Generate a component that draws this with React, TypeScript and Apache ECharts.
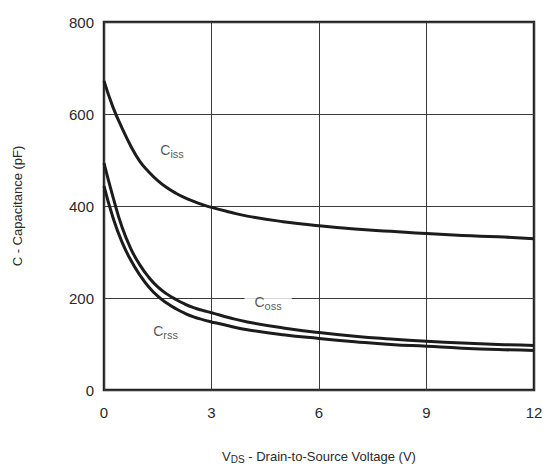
import React, { useEffect, useRef } from "react";
import * as echarts from "echarts";

const voltages = [0, 0.25, 0.5, 0.75, 1, 1.25, 1.5, 1.75, 2, 2.25, 2.5, 2.75, 3, 3.5, 4, 5, 6, 7, 8, 9, 10, 11, 12];
const ciss = [672, 615, 570, 530, 497, 474, 455, 440, 428, 418, 410, 403, 397, 387, 378, 366, 357, 350, 345, 340, 336, 333, 329];
const coss = [493, 420, 355, 307, 272, 245, 224, 209, 197, 187, 179, 173, 168, 157, 148, 135, 125, 117, 111, 106, 102, 99, 97];
const crss = [443, 375, 322, 282, 250, 224, 204, 189, 177, 167, 159, 153, 148, 139, 131, 120, 112, 105, 99, 95, 91, 88, 86];

const xTicks = [0, 3, 6, 9, 12];
const yTicks = [0, 200, 400, 600, 800];

const labels = [
  { name: "iss", x: 1.9, y: 522, bg: false },
  { name: "oss", x: 4.58, y: 191, bg: true },
  { name: "rss", x: 1.72, y: 128, bg: false },
];

const FONT = "'Liberation Sans', Arial, Helvetica, sans-serif";
const TXT = "#2a2a2a";

export default function App() {
  const ref = useRef<HTMLDivElement>(null);
  useEffect(() => {
    if (!ref.current) return;
    const chart = echarts.init(ref.current, undefined, { renderer: "svg" });
    const pair = (arr: number[]) => voltages.map((v, i) => [v, arr[i]]);
    const lineSeries = (name: string, arr: number[]) => ({
      name,
      type: "line",
      data: pair(arr),
      smooth: 0.5,
      showSymbol: false,
      symbol: "none",
      lineStyle: { color: "#1c1c1c", width: 3 },
      z: 3,
    });
    chart.setOption({
      animation: false,
      textStyle: { fontFamily: FONT },
      grid: {
        left: 104,
        right: 14,
        top: 22,
        bottom: 75,
        show: true,
        borderColor: "#222",
        borderWidth: 2.5,
        backgroundColor: "transparent",
      },
      xAxis: {
        type: "value",
        min: 0,
        max: 12,
        interval: 3,
        axisLine: { show: false },
        axisTick: { show: false },
        splitLine: { show: true, lineStyle: { color: "#3a3a3a", width: 1 } },
        axisLabel: {
          color: TXT,
          fontSize: 15,
          fontWeight: "normal",
          margin: 15,
          fontFamily: FONT,
          formatter: (v: number) => (xTicks.includes(v) ? String(v) : ""),
        },
        name: "{a|V}{b|DS}{a| - Drain-to-Source Voltage (V)}",
        nameLocation: "middle",
        nameGap: 58,
        nameTextStyle: {
          rich: {
            a: { fontSize: 13, color: TXT, fontFamily: FONT },
            b: { fontSize: 10, color: TXT, fontFamily: FONT, verticalAlign: "bottom", padding: [6, 0, 0, 0] },
          },
        },
      },
      yAxis: {
        type: "value",
        min: 0,
        max: 800,
        interval: 200,
        axisLine: { show: false },
        axisTick: { show: false },
        splitLine: { show: true, lineStyle: { color: "#3a3a3a", width: 1 } },
        axisLabel: {
          color: TXT,
          fontSize: 15,
          fontWeight: "normal",
          margin: 10,
          fontFamily: FONT,
          formatter: (v: number) => (yTicks.includes(v) ? String(v) : ""),
        },
        name: "C - Capacitance (pF)",
        nameLocation: "middle",
        nameGap: 80,
        nameTextStyle: { fontSize: 13, color: TXT, fontFamily: FONT },
      },
      series: [
        lineSeries("Ciss", ciss),
        lineSeries("Coss", coss),
        lineSeries("Crss", crss),
        {
          type: "scatter",
          symbolSize: 0,
          z: 4,
          data: labels.map((l) => ({
            value: [l.x, l.y],
            label: {
              show: true,
              position: "inside",
              formatter: `{a|C}{b|${l.name}}`,
              backgroundColor: l.bg ? "#fff" : "transparent",
              padding: l.bg ? [3, 10, 3, 10] : 0,
              rich: {
                a: { fontSize: 14, color: TXT, fontFamily: FONT },
                b: { fontSize: 11, color: TXT, fontFamily: FONT, verticalAlign: "bottom", padding: [8, 0, 0, 0] },
              },
            },
          })),
        },
      ],
    });
    return () => chart.dispose();
  }, []);
  return <div ref={ref} style={{ width: 548, height: 469, position: "absolute", left: 0, top: 0 }} />;
}
